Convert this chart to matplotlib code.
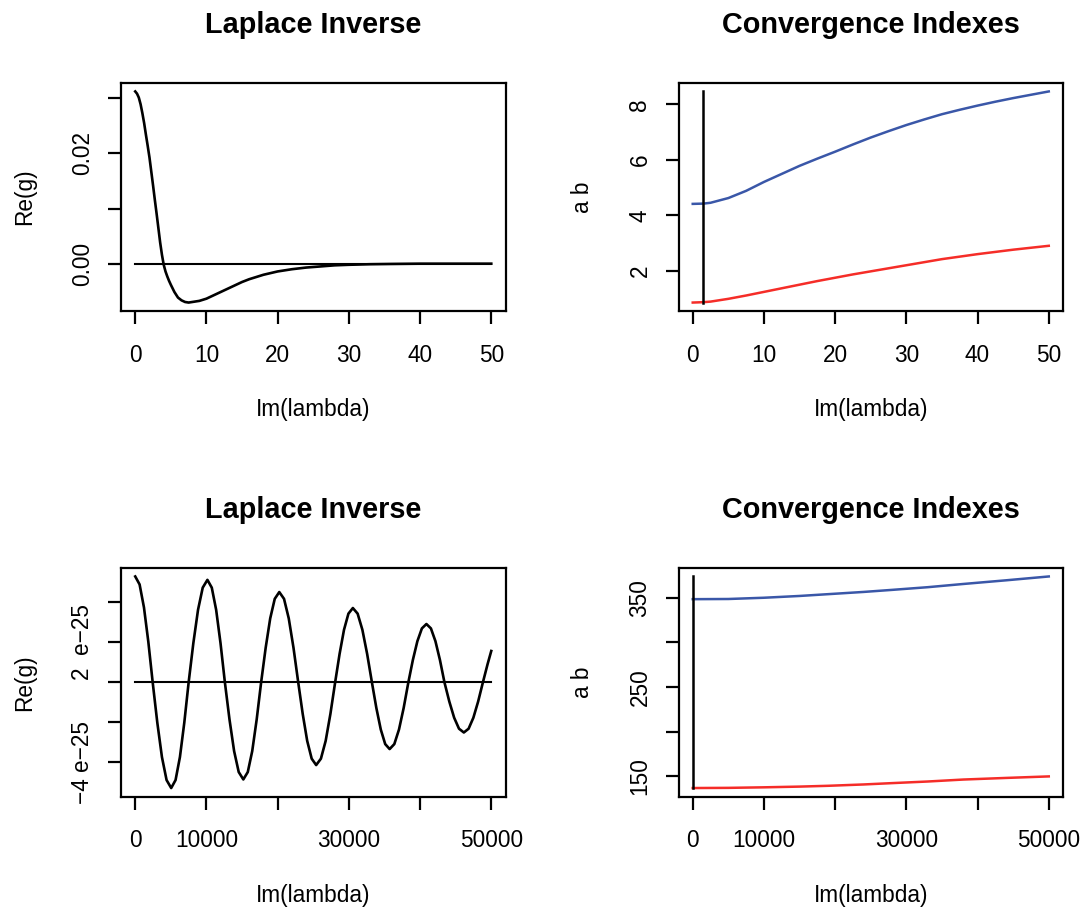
import matplotlib
matplotlib.use("Agg")
import matplotlib.pyplot as plt

plt.rcParams['font.family'] = ['Liberation Sans', 'DejaVu Sans']

# --- top left : Laplace inverse, small range
lam_small = [0, 0.25, 0.5, 0.75, 1.0, 1.25, 1.5, 1.75, 2.0, 2.25, 2.5, 2.75, 3.0, 3.25,
             3.5, 3.75, 4.0, 4.25, 4.5, 4.75, 5.0, 5.5, 6.0, 6.5, 7.0, 7.5, 8.0, 9, 10,
             11, 12, 13, 14, 15, 16, 17, 18, 19, 20, 22, 24, 26, 28, 30, 33, 36, 40,
             45, 50]
reg_small = [0.0311, 0.0307, 0.0300, 0.0288, 0.0272, 0.0254, 0.0233, 0.0213, 0.0192,
             0.0167, 0.0142, 0.0116, 0.0091, 0.0065, 0.0039, 0.0017, -0.0001, -0.0013,
             -0.0022, -0.0030, -0.0037, -0.0050, -0.0060, -0.0065, -0.0068, -0.0069,
             -0.0068, -0.0066, -0.0062, -0.0056, -0.0050, -0.0044, -0.0038, -0.0032,
             -0.0027, -0.0023, -0.0019, -0.0016, -0.0013, -0.0009, -0.0006, -0.0004,
             -0.0002, -0.0001, 0.0, 0.00005, 0.0001, 0.0001, 0.0001]

# --- top right : convergence indexes, small range
lam_ci_small = [0, 1.5, 2.5, 5, 7.5, 10, 12.5, 15, 17.5, 20, 22.5, 25, 27.5, 30, 32.5,
                35, 37.5, 40, 42.5, 45, 47.5, 50]
a_small = [4.41, 4.42, 4.45, 4.62, 4.88, 5.20, 5.49, 5.78, 6.04, 6.29, 6.55, 6.80, 7.03,
           7.25, 7.45, 7.64, 7.80, 7.95, 8.09, 8.22, 8.34, 8.46]
b_small = [0.856, 0.87, 0.89, 0.99, 1.11, 1.24, 1.37, 1.50, 1.63, 1.75, 1.87, 1.98, 2.09,
           2.20, 2.31, 2.42, 2.51, 2.60, 2.68, 2.76, 2.83, 2.90]
vline_small = 1.4

# --- bottom left : Laplace inverse, large range (values in units of 1e-25)
lam_big = [0, 612, 1225, 1838, 2450, 3100, 3750, 4400, 5050, 5663, 6275, 6888, 7500,
           8159, 8818, 9477, 10136, 10750, 11363, 11977, 12590, 13238, 13885, 14533,
           15180, 15805, 16430, 17055, 17680, 18318, 18955, 19593, 20230, 20895, 21560,
           22225, 22890, 23520, 24150, 24780, 25410, 26076, 26743, 27409, 28075, 28697,
           29319, 29941, 30563, 31232, 31901, 32570, 33239, 33861, 34484, 35106, 35728,
           36385, 37042, 37699, 38356, 38990, 39624, 40258, 40892, 41526, 42160, 42793,
           43427, 44108, 44789, 45469, 46150, 46819, 47488, 48157, 48826, 49476, 50000]
reg_big = [5.30, 4.90, 3.75, 2.03, 0.0, -2.02, -3.74, -4.89, -5.29, -4.89, -3.74, -2.02,
           0.0, 1.96, 3.63, 4.74, 5.13, 4.74, 3.63, 1.96, 0.0, -1.86, -3.44, -4.49, -4.86,
           -4.49, -3.44, -1.86, 0.0, 1.73, 3.20, 4.18, 4.52, 4.18, 3.20, 1.73, 0.0, -1.58,
           -2.93, -3.82, -4.14, -3.82, -2.93, -1.58, 0.0, 1.42, 2.63, 3.44, 3.72, 3.44,
           2.63, 1.42, 0.0, -1.28, -2.36, -3.09, -3.34, -3.09, -2.36, -1.28, 0.0, 1.12,
           2.06, 2.70, 2.92, 2.70, 2.06, 1.12, 0.0, -0.96, -1.77, -2.32, -2.51, -2.32,
           -1.77, -0.96, 0.0, 0.90, 1.57]
reg_big = [v * 1e-25 for v in reg_big]

# --- bottom right : convergence indexes, large range
lam_ci_big = [0, 5000, 10000, 15000, 19000, 24000, 28000, 33000, 38000, 44000, 50000]
a_big = [348.2, 348.4, 349.8, 351.8, 353.8, 356.3, 358.6, 361.6, 365.2, 369.3, 373.6]
b_big = [137.0, 137.2, 137.8, 138.6, 139.5, 141.0, 142.5, 144.3, 146.5, 148.3, 150.0]
vline_big = 100

blue = '#3a57a8'
red = '#f52d28'
fs = 16.3

W, H = 1083, 908
fig = plt.figure(figsize=(W / 100, H / 100), dpi=100)


def make_ax(left, top, right, bottom):
    ax = fig.add_axes([left / W, 1 - bottom / H, (right - left) / W, (bottom - top) / H])
    for s in ax.spines.values():
        s.set_linewidth(1.6)
    ax.tick_params(axis='both', direction='out', length=9.5, width=1.6, labelsize=fs)
    ax.tick_params(axis='x', pad=14)
    ax.tick_params(axis='y', pad=10, labelrotation=90)
    ax.margins(x=0.04, y=0.04)
    return ax


def finish(ax, title, ylabel, height):
    # title baseline sits 278 px above the bottom of the box
    ax.text(0.5, 278 / height, title, transform=ax.transAxes, ha='center',
            va='baseline', fontsize=20.8, fontweight='bold')
    ax.set_xlabel('Im(lambda)', fontsize=fs, va='center')
    ax.xaxis.set_label_coords(0.5, -99 / height)
    ax.set_ylabel(ylabel, fontsize=fs, va='center')
    ax.yaxis.set_label_coords(-96 / 385, 0.5)
    for lab in ax.get_yticklabels():
        lab.set_va('center')


# top left
ax1 = make_ax(121, 83, 505.5, 311)
ax1.plot(lam_small, reg_small, color='black', lw=1.9)
ax1.plot([lam_small[0], lam_small[-1]], [0, 0], color='black', lw=1.5)
ax1.set_xticks([0, 10, 20, 30, 40, 50])
ax1.set_yticks([0.0, 0.01, 0.02, 0.03])
ax1.set_yticklabels(['0.00', '', '0.02', ''])
finish(ax1, 'Laplace Inverse', 'Re(g)', 228)

# top right
ax2 = make_ax(678.5, 83, 1063, 311)
ax2.plot(lam_ci_small, a_small, color=blue, lw=1.8)
ax2.plot(lam_ci_small, b_small, color=red, lw=1.8)
ax2.plot([vline_small, vline_small], [min(b_small), max(a_small)], color='black', lw=1.8)
ax2.set_xticks([0, 10, 20, 30, 40, 50])
ax2.set_yticks([2, 4, 6, 8])
finish(ax2, 'Convergence Indexes', 'a b', 228)

# bottom left
ax3 = make_ax(121, 568, 505.5, 796.5)
ax3.plot(lam_big, reg_big, color='black', lw=1.9)
ax3.plot([lam_big[0], lam_big[-1]], [0, 0], color='black', lw=1.5)
ax3.set_xticks([0, 10000, 20000, 30000, 40000, 50000])
ax3.set_xticklabels(['0', '10000', '', '30000', '', '50000'])
ax3.set_yticks([-4e-25, -2e-25, 0, 2e-25, 4e-25])
ax3.set_yticklabels(['\u22124 e\u221225', '', '', '2  e\u221225', ''])
finish(ax3, 'Laplace Inverse', 'Re(g)', 228.5)

# bottom right
ax4 = make_ax(678.5, 568, 1063, 796.5)
ax4.plot(lam_ci_big, a_big, color=blue, lw=1.8)
ax4.plot(lam_ci_big, b_big, color=red, lw=1.8)
ax4.plot([vline_big, vline_big], [min(b_big), max(a_big)], color='black', lw=1.8)
ax4.set_xticks([0, 10000, 20000, 30000, 40000, 50000])
ax4.set_xticklabels(['0', '10000', '', '30000', '', '50000'])
ax4.set_yticks([150, 200, 250, 300, 350])
ax4.set_yticklabels(['150', '', '250', '', '350'])
finish(ax4, 'Convergence Indexes', 'a b', 228.5)

fig.savefig('out.png', dpi=100)
